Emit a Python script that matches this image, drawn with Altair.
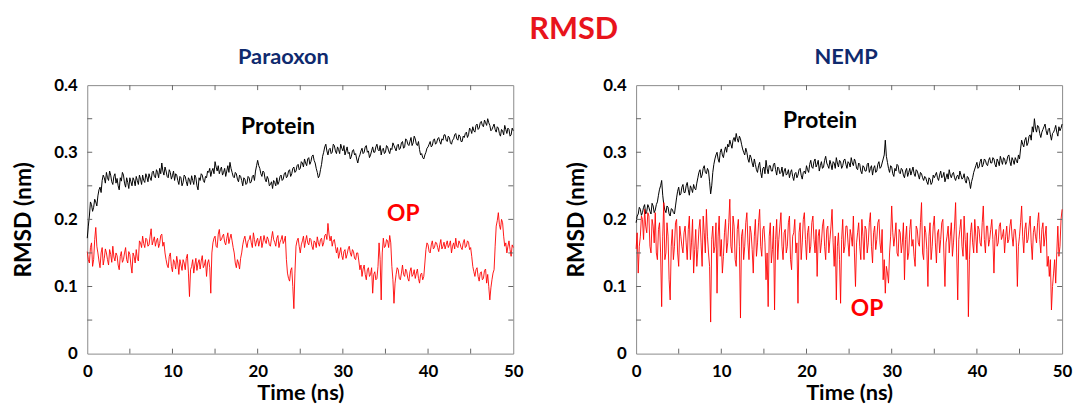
import altair as alt
import numpy as np
import pandas as pd

# RMSD values in pm (1 pm = 0.001 nm).
# *_a: frames at 0, 0.25, ..., 50 ns ; *_b: frames at 0.125, 0.375, ..., 49.875 ns
para_protein_a = [
    172, 205, 222, 218, 226, 235, 248, 258, 262,
    270, 258, 266, 252, 268, 261, 244, 257, 266, 248, 255, 262,
    250, 258, 264, 252, 260, 266, 255, 263,
    268, 258, 272, 262, 270, 276, 284, 266, 272, 262, 270, 265,
    258, 266, 252, 262, 255, 264, 250, 259,
    265, 252, 262, 244, 258, 266, 255, 262,
    270, 264, 276, 286, 272, 268, 278, 270, 264, 280, 285, 270,
    262, 268, 256, 264, 250, 260, 254, 262, 256, 266, 272,
    288, 276, 264, 270, 256, 260, 252, 246, 255,
    262, 256, 266, 260, 270, 264, 274, 268, 278, 272, 282, 276,
    284, 290, 280, 292, 286, 296, 284, 270, 265, 282,
    300, 312, 296, 306, 300, 310, 298, 304, 312, 302,
    296, 308, 300, 294, 304, 298, 284, 296, 306, 300, 310, 302,
    296, 308, 300, 312, 302, 296, 306, 300, 308, 298, 304, 310,
    302, 312, 306, 316, 308, 318, 310, 322, 314, 320, 310, 304,
    298, 290, 300, 308, 316, 310, 320, 314,
    322, 312, 318, 326, 316, 322, 312, 320, 328, 318, 324, 316, 322, 330, 326, 334,
    338, 330, 342, 336, 346, 338, 344, 350, 340, 334,
    342, 330, 336, 324, 332, 340, 328, 334, 326, 332,
]
para_protein_b = [
    190, 226, 212, 230, 220, 244, 240, 266, 254,
    262, 272, 256, 264, 254, 250, 262, 270, 254, 262, 246, 256,
    262, 250, 258, 266, 252, 258, 268, 256,
    262, 270, 264, 274, 262, 268, 272, 278, 264, 274, 260, 272,
    268, 258, 264, 250, 266, 256, 262, 252,
    258, 266, 250, 262, 268, 258, 264, 272,
    276, 272, 268, 278, 280, 274, 266, 276, 272, 270, 276, 264,
    270, 260, 266, 258, 262, 252, 264, 254, 264, 258, 280,
    280, 268, 272, 260, 264, 250, 256, 258, 250,
    252, 264, 258, 268, 262, 272, 264, 276, 270, 280, 274, 286,
    278, 284, 290, 282, 294, 288, 276, 262, 274, 294,
    308, 302, 304, 298, 312, 302, 308, 298, 306, 310,
    302, 298, 290, 302, 296, 290, 292, 302, 298, 308, 300, 292,
    302, 300, 308, 304, 310, 304, 298, 310, 302, 306, 314, 306,
    310, 304, 314, 306, 320, 312, 316, 310, 324, 312, 316, 296,
    292, 296, 306, 312, 308, 318, 312, 320,
    316, 320, 326, 318, 324, 314, 318, 326, 320, 326, 316, 324, 328, 322, 336, 328,
    332, 340, 334, 344, 340, 348, 340, 344, 332, 338,
    334, 338, 328, 334, 326, 334, 336, 324, 336,
]

para_op_a = [
    152, 135, 165, 140, 188, 150, 128, 158, 142,
    150, 132, 148, 160, 138, 146, 125, 152, 140, 158, 135, 148, 120, 145, 155, 138,
    165, 175, 158, 170, 162, 186, 168, 160, 172, 164, 178, 166,
    140, 128, 150, 122, 136, 145, 118, 132, 140, 125, 148, 85, 130, 120, 142, 135, 126, 146, 132, 115, 140, 90,
    165, 175, 158, 185, 170, 178, 162, 180, 172, 168, 150,
    128, 135, 142,
    162, 175, 158, 170, 165, 180, 160, 172, 168, 158, 176, 164, 170, 160, 182, 166, 172, 158, 170, 164, 175,
    120, 108, 128, 67,
    160, 172, 150, 168, 158, 176, 162, 170, 155, 166, 174, 160, 172, 165, 178, 194, 168, 160, 170,
    150, 142, 158, 140, 155, 148, 160, 145, 152, 140, 150,
    125, 115, 132, 110, 128, 118, 90, 122, 112,
    165, 80, 172, 160, 168, 176,
    130, 75, 118, 125, 110, 132, 115, 122, 108, 128, 118, 112, 126, 105, 120, 115,
    155, 162, 150, 168, 158, 165, 152, 170, 160, 156, 168, 162, 150, 165, 172, 158, 164, 155, 170, 160, 166, 158,
    130, 115, 128, 108, 122, 112, 126, 118, 80, 110, 125,
    190, 210, 185, 195,
    160, 150, 168, 145, 158,
]
para_op_b = [
    140, 158, 130, 170, 160, 138, 150, 132, 156,
    140, 155, 136, 144, 150, 132, 145, 136, 150, 140, 152, 132, 150, 135, 142, 168,
    158, 164, 172, 160, 175, 162, 174, 168, 158, 176, 160, 150,
    132, 145, 130, 140, 126, 135, 140, 124, 135, 142, 120, 125, 140, 132, 124, 140, 138, 128, 140, 135, 128, 150,
    172, 160, 178, 168, 175, 166, 172, 164, 178, 158, 135,
    140, 126, 150,
    170, 165, 168, 176, 158, 170, 168, 160, 175, 166, 168, 174, 162, 172, 170, 160, 176, 166, 176, 168, 140,
    112, 124, 100, 120,
    168, 160, 162, 175, 168, 165, 172, 160, 168, 158, 165, 170, 160, 176, 170, 178, 175, 168, 160,
    158, 150, 146, 152, 142, 156, 150, 155, 142, 150, 138,
    132, 126, 118, 125, 115, 128, 118, 110, 130,
    140, 150, 158, 170, 158, 165,
    110, 105, 128, 112, 120, 118, 126, 112, 122, 115, 125, 120, 112, 118, 110, 135,
    165, 152, 162, 156, 166, 158, 162, 156, 166, 162, 158, 168, 160, 156, 160, 168, 158, 165, 158, 168, 155, 145,
    122, 125, 115, 120, 110, 124, 105, 100, 98, 120, 160,
    198, 192, 200, 175,
    165, 160, 155, 162,
]

nemp_protein_a = [
    195, 208, 215, 210, 222, 212, 218, 208, 220, 214, 226,
    245, 258,
    222, 210, 218, 205, 215, 208,
    232, 248, 238, 252, 240, 255, 236, 246, 252, 244,
    262, 274, 266, 280, 268, 272, 238,
    270, 290, 300, 285, 305, 292, 308,
    312, 318, 306, 322, 328, 315, 320,
    305, 296, 300, 285, 292, 278, 282,
    270, 285, 262, 278, 288, 268, 280, 272, 284, 266, 276, 270,
    264, 276, 268, 262, 274, 258, 270, 266, 276, 260, 272,
    280, 270, 288, 276, 290, 282, 272, 286, 278, 294, 280, 288, 274, 284, 292, 278, 286, 280, 290, 276, 284,
    292, 280, 286, 274, 282, 268, 278, 272, 284, 276, 266, 280, 272, 286, 278, 290, 318,
    285, 270, 278, 264, 272, 280, 268, 274, 262, 276, 270, 266, 278, 264, 272, 260, 268,
    258, 262, 252, 260, 255,
    262, 270, 258, 272, 264, 256, 268, 274, 262, 270, 258, 266, 272, 260, 268, 254, 262, 246,
    262, 275, 285, 278, 290, 282,
    288, 280, 292, 284, 290, 278, 286, 294, 282, 290, 286, 296, 280, 288, 292, 284, 290,
    318, 308, 322, 314, 326, 338, 350,
    330, 338, 322, 334, 342, 326, 336, 318, 330, 340, 324, 332, 342,
]
nemp_protein_b = [
    205, 218, 206, 218, 208, 222, 212, 224, 210, 222, 236,
    250, 236,
    214, 220, 208, 216, 210, 220,
    242, 236, 248, 240, 250, 244, 250, 240, 246, 254,
    270, 262, 276, 270, 276, 256, 250,
    282, 296, 290, 300, 296, 302, 300,
    308, 312, 318, 316, 320, 324, 312,
    300, 306, 290, 296, 284, 290, 274,
    280, 270, 276, 268, 276, 280, 272, 282, 274, 278, 268, 278,
    272, 266, 274, 270, 264, 268, 262, 274, 266, 270, 268,
    274, 282, 278, 286, 278, 288, 280, 276, 288, 284, 276, 282, 286, 276, 284, 288, 276, 288, 282, 286, 278,
    284, 290, 276, 284, 272, 280, 272, 282, 270, 280, 276, 270, 282, 276, 284, 296, 294,
    276, 280, 268, 276, 282, 270, 276, 266, 272, 264, 276, 272, 268, 274, 266, 270, 262,
    264, 256, 262, 252, 266,
    266, 262, 266, 262, 270, 262, 260, 266, 268, 262, 264, 260, 266, 262, 258, 264, 256, 256,
    270, 280, 276, 286, 278, 290,
    282, 288, 284, 292, 282, 290, 280, 288, 292, 282, 294, 286, 292, 282, 288, 296, 305,
    312, 318, 310, 324, 318, 330, 336,
    340, 328, 330, 338, 332, 334, 326, 328, 334, 330, 338, 336,
]

nemp_op_a = [
    156, 120, 175, 200, 215, 180, 205, 150, 190, 210, 140, 195, 70, 225, 150, 175, 80, 185, 160, 200,
    130, 175, 150, 190, 140, 205, 165, 120, 185, 155, 200, 130, 180, 215, 150, 47, 190, 160, 90, 205, 170,
    145, 200, 165, 230, 150, 190, 130, 200, 53, 185, 160, 210, 140, 180, 120, 200, 165, 215, 145, 190,
    110, 70, 195, 155, 65, 200, 170, 210, 140, 185, 160, 205, 125, 180, 150, 75, 195, 165, 210, 140,
    190, 160, 205, 150, 115, 185, 165, 200, 140, 190, 170, 215, 130, 80, 180, 75, 200, 160, 190, 145,
    175, 205, 100, 180, 160, 200, 140, 185, 165, 210, 135, 190, 170, 200, 150, 110, 90, 120, 150, 220,
    160, 195, 145, 180, 165, 110, 190, 150, 200, 170, 130, 185, 160, 225, 140, 180, 100, 195, 160, 205,
    135, 185, 170, 200, 100, 175, 150, 195, 165, 225, 80, 185, 160, 205, 140, 55, 180, 165, 200, 150,
    185, 160, 220, 150, 190, 170, 200, 120, 185, 165, 195, 175, 150, 190, 170, 200, 160, 185, 100, 175,
    220, 150, 195, 170, 205, 140, 190, 165, 210, 150, 195, 175, 130, 115, 65, 120, 105, 190, 160, 215,
]
nemp_op_b = [
    180, 160, 205, 170, 190, 210, 160, 200, 165, 150, 185, 150, 175, 140, 195, 110, 160, 140, 195, 150,
    190, 160, 180, 165, 185, 140, 200, 155, 130, 185, 165, 205, 150, 175, 130, 170, 150, 195, 175, 145, 120,
    180, 150, 195, 160, 205, 140, 185, 160, 175, 140, 195, 165, 190, 155, 175, 145, 195, 160, 185, 165,
    150, 175, 135, 190, 170, 140, 190, 160, 180, 150, 195, 140, 175, 200, 165, 180, 140, 200, 170, 180,
    150, 195, 170, 185, 175, 150, 190, 160, 185, 150, 190, 165, 175, 160, 140, 170, 150, 190, 165, 185,
    160, 150, 165, 195, 140, 175, 190, 150, 195, 160, 180, 155, 195, 165, 185, 140, 130, 105, 175, 180,
    175, 150, 185, 150, 195, 170, 140, 185, 160, 145, 190, 165, 195, 150, 190, 155, 175, 140, 190, 165,
    180, 150, 195, 150, 165, 190, 175, 145, 190, 150, 170, 200, 145, 170, 180, 140, 195, 150, 175, 190,
    165, 195, 170, 190, 160, 185, 170, 175, 160, 190, 170, 185, 175, 165, 190, 175, 185, 165, 160, 195,
    175, 185, 165, 190, 165, 180, 175, 195, 170, 185, 160, 190, 145, 140, 100, 140, 150, 145, 200,
]

x_label_values = [0, 10, 20, 30, 40, 50]
y_label_values = [0, 0.1, 0.2, 0.3, 0.4]
x_tick_values = [5, 10, 15, 20, 25, 30, 35, 40, 45]
y_tick_values = [0.05, 0.1, 0.15, 0.2, 0.25, 0.3, 0.35]

panel_titles = ["Paraoxon", "NEMP"]
series_names = ["Protein", "OP"]
series_colors = ["#000000", "#ff0000"]
# annotation anchors (time in ns, RMSD in nm)
para_label_time = [22.4, 37.1]
para_label_rmsd = [0.337, 0.208]
nemp_label_time = [21.6, 27.1]
nemp_label_rmsd = [0.347, 0.066]

FONT = "Lato"
NAVY = "#0f2a6e"
TITLE_RED = "#e8141c"
W, H = 430, 271


def series_frame(name, a, b):
    fa = pd.DataFrame({"time": np.linspace(0, 50, len(a)),
                       "rmsd": np.asarray(a, dtype=float) / 1000.0})
    fb = pd.DataFrame({"time": np.linspace(0.125, 49.875, len(b)),
                       "rmsd": np.asarray(b, dtype=float) / 1000.0})
    df = pd.concat([fa, fb], ignore_index=True).sort_values("time")
    df["series"] = name
    return df


def panel(title, prot, op, lab_t, lab_r, dx, ytitle_pad):
    xs = alt.Scale(domain=[0, 50], nice=False, zero=False)
    ys = alt.Scale(domain=[0, 0.4], nice=False)
    xaxis = alt.Axis(values=x_label_values, title="Time (ns)", labelFlush=False,
                     ticks=False, domain=False, grid=False, labelPadding=10,
                     titlePadding=3, labelFontSize=17, titleFontSize=22)
    yaxis = alt.Axis(values=y_label_values, format="~g", title="RMSD (nm)",
                     ticks=False, domain=False, grid=False, labelPadding=10,
                     titlePadding=ytitle_pad, labelFontSize=17, titleFontSize=23)
    layers = []
    for name, col, (a, b), sw in zip(series_names, series_colors, (prot, op), (1.0, 0.9)):
        df = series_frame(name, a, b)
        layers.append(
            alt.Chart(df).mark_line(color=col, strokeWidth=sw)
            .encode(x=alt.X("time:Q", scale=xs, axis=xaxis),
                    y=alt.Y("rmsd:Q", scale=ys, axis=yaxis))
        )
    xt = pd.DataFrame({"time": x_tick_values})
    yt = pd.DataFrame({"rmsd": y_tick_values})
    tick_col = "#666666"
    layers.append(alt.Chart(xt).mark_rule(color=tick_col, strokeWidth=1).encode(
        x=alt.X("time:Q", scale=xs), y=alt.value(H), y2=alt.value(H - 5)))
    layers.append(alt.Chart(xt).mark_rule(color=tick_col, strokeWidth=1).encode(
        x=alt.X("time:Q", scale=xs), y=alt.value(0), y2=alt.value(5)))
    layers.append(alt.Chart(yt).mark_rule(color=tick_col, strokeWidth=1).encode(
        y=alt.Y("rmsd:Q", scale=ys), x=alt.value(0), x2=alt.value(5)))
    layers.append(alt.Chart(yt).mark_rule(color=tick_col, strokeWidth=1).encode(
        y=alt.Y("rmsd:Q", scale=ys), x=alt.value(W), x2=alt.value(W - 5)))
    lab = pd.DataFrame({"text": series_names, "time": lab_t, "rmsd": lab_r,
                        "col": series_colors})
    layers.append(alt.Chart(lab).mark_text(font=FONT, fontSize=23, fontWeight="bold").encode(
        x=alt.X("time:Q", scale=xs), y=alt.Y("rmsd:Q", scale=ys),
        text="text:N", color=alt.Color("col:N", scale=None)))
    return alt.layer(*layers).properties(
        width=W, height=H,
        title=alt.Title(title, fontSize=22, color=NAVY, font=FONT, fontWeight="bold",
                        anchor="middle", frame="group", offset=7, dx=dx),
    )


left = panel(panel_titles[0], (para_protein_a, para_protein_b), (para_op_a, para_op_b),
             para_label_time, para_label_rmsd, -17, 19)
right = panel(panel_titles[1], (nemp_protein_a, nemp_protein_b), (nemp_op_a, nemp_op_b),
              nemp_label_time, nemp_label_rmsd, -3, 14)

chart = alt.hconcat(left, right, spacing=41).properties(
    title=alt.Title("RMSD", fontSize=31, color=TITLE_RED, font=FONT, fontWeight="bold",
                    anchor="middle", offset=0, dx=32),
).configure(
    padding={"left": 3, "top": 4, "right": 0, "bottom": 0},
    font=FONT,
).configure_view(
    stroke="#8a8a8a", strokeWidth=1
).configure_axis(
    labelFont=FONT, titleFont=FONT, labelFontWeight="bold", titleFontWeight="bold",
    labelColor="#000000", titleColor="#000000",
)

chart.save("out.html", embed_options={"renderer": "svg", "actions": False})
